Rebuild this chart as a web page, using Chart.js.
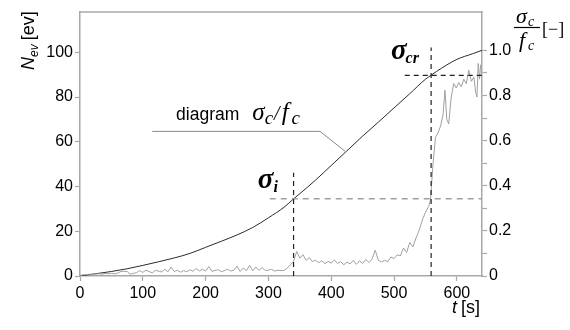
<!DOCTYPE html>
<html>
<head>
<meta charset="utf-8">
<script src="https://cdn.jsdelivr.net/npm/chart.js@4/dist/chart.umd.min.js"></script>
<style>
  html, body { margin: 0; padding: 0; background: #fff; }
  #wrap { width: 570px; height: 330px; }
</style>
</head>
<body>
<div id="wrap"><canvas id="aeChart" width="570" height="330"></canvas></div>
<script>
// acoustic emission events N_ev [ev] (grey, left axis)
const evTime = [0, 5, 10, 15, 20, 25, 30, 35, 40, 45, 50, 55, 60, 65, 70, 75, 80, 85, 90, 95,
  100, 105, 110, 115, 120, 125, 130, 135, 140, 145, 150, 155, 160, 165, 170, 175, 180, 185, 190, 195,
  200, 205, 210, 215, 220, 225, 230, 235, 240, 245, 250, 255, 260, 265, 270, 275, 280, 285, 290, 295,
  300, 305, 310, 315, 320, 325, 330, 335, 340, 345, 350, 355, 360, 365, 370, 375, 380, 385, 390, 395,
  400, 405, 410, 415, 420, 425, 430, 435, 440, 445, 450, 455, 460, 465, 470, 475, 480, 485, 490, 495,
  500, 505, 510, 515, 520, 525, 530, 535, 540, 545, 550, 555, 558, 562, 566, 570, 574, 578, 581, 584,
  587, 591, 595, 599, 603, 607, 611, 615, 619, 623, 627, 630, 632, 634, 636, 638];
const evCount = [0.3, 0.5, 0.6, 0.8, 0.7, 0.9, 1.0, 0.8, 1.1, 1.0, 1.2, 1.0, 1.3, 2.0, 2.1, 2.0, 0.8, 1.2, 1.5, 2.4,
  1.6, 2.6, 2.0, 1.4, 2.5, 2.2, 1.8, 3.0, 1.9, 4.0, 2.0, 2.6, 1.7, 2.4, 1.9, 2.8, 2.1, 3.4, 2.3, 3.0,
  2.2, 4.2, 2.1, 2.5, 2.8, 1.9, 2.4, 3.0, 2.2, 2.6, 4.4, 2.0, 3.6, 2.4, 4.8, 2.3, 4.0, 2.5, 3.8, 2.4,
  2.6, 3.0, 2.2, 2.6, 2.4, 2.5, 3.5, 5.0, 6.5, 11.0, 8.0, 9.5, 7.0, 8.2, 6.5, 7.0, 6.0, 6.8, 5.5, 6.5,
  5.8, 7.2, 5.6, 6.4, 5.0, 6.2, 5.4, 7.0, 5.2, 6.8, 5.6, 7.4, 6.0, 7.6, 11.5, 7.0, 6.3, 7.0, 6.4, 8.5,
  7.8, 9.5, 9.0, 12.5, 10.5, 15.0, 13.0, 17.0, 20.5, 25.0, 28.5, 31.0, 34.0, 50.0, 62.0, 64.0, 67.0, 72.0, 83.0, 70.0,
  68.0, 80.0, 86.0, 84.0, 86.5, 84.5, 88.0, 86.0, 92.0, 87.0, 89.0, 82.0, 80.0, 95.0, 88.0, 94.5];

// stress ratio sigma_c / f_c (black, right axis)
const stressTime = [0, 25, 50, 75, 100, 125, 150, 175, 200, 225, 250, 275, 300, 325, 340, 350,
  375, 400, 425, 450, 475, 500, 525, 550, 560, 575, 600, 625, 640];
const stressRatio = [0, 0.01, 0.02, 0.032, 0.047, 0.063, 0.08, 0.1, 0.127, 0.154, 0.182, 0.215, 0.258, 0.305, 0.342, 0.365,
  0.425, 0.49, 0.555, 0.62, 0.682, 0.745, 0.808, 0.872, 0.892, 0.92, 0.96, 0.985, 1.0];

// characteristic points
const sigmaI = { t: 340, ratio: 0.342 };
const sigmaCr = { t: 559, ratio: 0.889 };

const xTicks = [0, 100, 200, 300, 400, 500, 600];
const leftTicks = [0, 20, 40, 60, 80, 100];

const toPoints = (xs, ys) => xs.map((x, i) => ({ x: x, y: ys[i] }));

const DARK = '#2a2a2a';
const GREY = '#a0a0a0';
const AXIS = '#a8a8a8';

// text drawn over the plot: axis titles and labels
const labelsPlugin = {
  id: 'labels',
  afterDraw(chart) {
    const { ctx, chartArea: a, scales } = chart;
    const x = scales.x, r = scales.y1;
    ctx.save();

    // top frame line
    ctx.strokeStyle = AXIS;
    ctx.lineWidth = 1.5;
    ctx.beginPath();
    ctx.moveTo(a.left, a.top);
    ctx.lineTo(a.right + 0.75, a.top);
    ctx.stroke();

    ctx.fillStyle = '#000';
    ctx.textBaseline = 'alphabetic';
    ctx.textAlign = 'left';

    // "diagram σc/fc"
    let px = x.getPixelForValue(153), py = r.getPixelForValue(0.693);
    ctx.font = '17.5px "Liberation Sans", Arial, sans-serif';
    ctx.fillText('diagram', px, py);
    px += ctx.measureText('diagram').width + 13;
    ctx.font = 'italic 25px "Liberation Serif", serif';
    ctx.fillText('σ', px, py);
    px += ctx.measureText('σ').width;
    ctx.font = 'italic 19px "Liberation Serif", serif';
    ctx.fillText('c', px, py + 4);
    px += ctx.measureText('c').width + 1;
    ctx.font = 'italic 20px "Liberation Serif", serif';
    ctx.fillText('/', px, py);
    px += ctx.measureText('/').width + 2;
    ctx.font = 'italic 25px "Liberation Serif", serif';
    ctx.fillText('f', px, py);
    px += ctx.measureText('f').width + 3;
    ctx.font = 'italic 19px "Liberation Serif", serif';
    ctx.fillText('c', px, py + 4);

    // σi
    px = x.getPixelForValue(283); py = r.getPixelForValue(0.392);
    ctx.font = 'bold italic 29px "Liberation Serif", serif';
    ctx.fillText('σ', px, py);
    px += ctx.measureText('σ').width;
    ctx.font = 'bold italic 16px "Liberation Serif", serif';
    ctx.fillText('i', px, py + 4);

    // σcr
    px = x.getPixelForValue(495); py = r.getPixelForValue(0.962);
    ctx.font = 'bold italic 29px "Liberation Serif", serif';
    ctx.fillText('σ', px, py);
    px += ctx.measureText('σ').width - 1;
    ctx.font = 'bold italic 16px "Liberation Serif", serif';
    ctx.fillText('cr', px, py + 4);

    // x title "t [s]"
    px = a.right - 30; py = 313;
    ctx.font = 'italic 18px "Liberation Sans", Arial, sans-serif';
    ctx.fillText('t', px, py);
    px += ctx.measureText('t').width + 4;
    ctx.font = '18px "Liberation Sans", Arial, sans-serif';
    ctx.fillText('[s]', px, py);

    // right title: fraction σc / fc [−]
    const fx = a.right + 34;
    ctx.font = 'italic 22px "Liberation Serif", serif';
    ctx.fillText('σ', fx, 23);
    ctx.font = 'italic 14px "Liberation Serif", serif';
    ctx.fillText('c', fx + 12, 26);
    ctx.strokeStyle = '#000';
    ctx.lineWidth = 1.2;
    ctx.beginPath();
    ctx.moveTo(fx - 2, 27.5);
    ctx.lineTo(fx + 24, 27.5);
    ctx.stroke();
    ctx.font = 'italic 22px "Liberation Serif", serif';
    ctx.fillText('f', fx + 3, 47);
    ctx.font = 'italic 14px "Liberation Serif", serif';
    ctx.fillText('c', fx + 12, 50);
    ctx.font = '18px "Liberation Serif", serif';
    ctx.fillText('[−]', fx + 26, 35);

    // left title "Nev [ev]" rotated
    ctx.translate(34, a.top + 58);
    ctx.rotate(-Math.PI / 2);
    px = 0;
    ctx.font = 'italic 18px "Liberation Sans", Arial, sans-serif';
    ctx.fillText('N', px, 0);
    px += ctx.measureText('N').width;
    ctx.font = 'italic 12px "Liberation Sans", Arial, sans-serif';
    ctx.fillText('ev', px, 4);
    px += ctx.measureText('ev').width + 4;
    ctx.font = '18px "Liberation Sans", Arial, sans-serif';
    ctx.fillText('[ev]', px, 0);

    ctx.restore();
  }
};

const tickFont = { family: '"Liberation Sans", Arial, sans-serif', size: 16 };

new Chart(document.getElementById('aeChart'), {
  type: 'line',
  data: {
    datasets: [
      { // leader line of the "diagram" label
        data: [{ x: 115, y: 0.641 }, { x: 382, y: 0.641 }, { x: 422, y: 0.553 }],
        yAxisID: 'y1', borderColor: '#8a8a8a', borderWidth: 1, pointRadius: 0, tension: 0
      },
      { // σi vertical
        data: [{ x: sigmaI.t, y: 0 }, { x: sigmaI.t, y: 0.458 }],
        yAxisID: 'y1', borderColor: '#222', borderWidth: 1.2, borderDash: [5, 4], pointRadius: 0
      },
      { // σi horizontal
        data: [{ x: 302, y: sigmaI.ratio }, { x: 640, y: sigmaI.ratio }],
        yAxisID: 'y1', borderColor: '#a0a0a0', borderWidth: 1.5, borderDash: [6, 5], pointRadius: 0
      },
      { // σcr vertical
        data: [{ x: sigmaCr.t, y: 0 }, { x: sigmaCr.t, y: 1.013 }],
        yAxisID: 'y1', borderColor: '#222', borderWidth: 1.2, borderDash: [5, 4], pointRadius: 0
      },
      { // σcr horizontal
        data: [{ x: 517, y: sigmaCr.ratio }, { x: 642, y: sigmaCr.ratio }],
        yAxisID: 'y1', borderColor: '#222', borderWidth: 1.2, borderDash: [5, 4], pointRadius: 0
      },
      {
        label: 'N_ev',
        data: toPoints(evTime, evCount),
        yAxisID: 'y', borderColor: GREY, borderWidth: 1, pointRadius: 0, tension: 0
      },
      {
        label: 'σc/fc',
        data: toPoints(stressTime, stressRatio),
        yAxisID: 'y1', borderColor: DARK, borderWidth: 1, pointRadius: 0, cubicInterpolationMode: 'monotone'
      }
    ]
  },
  options: {
    responsive: false,
    maintainAspectRatio: false,
    animation: false,
    layout: { padding: { top: 12, left: 0, right: 0, bottom: 0 } },
    plugins: {
      legend: { display: false },
      tooltip: { enabled: false }
    },
    scales: {
      x: {
        type: 'linear', position: 'bottom', min: 0, max: 640,
        afterBuildTicks: s => { s.ticks = xTicks.map(v => ({ value: v })); },
        afterFit: s => { s.height = 54; },
        ticks: { color: '#000', font: tickFont, padding: 3, maxRotation: 0 },
        grid: { drawOnChartArea: false, tickLength: 5, color: AXIS, tickWidth: 1.2 },
        border: { color: AXIS, width: 1.5 }
      },
      y: {
        position: 'left', min: 0, max: 118,
        afterBuildTicks: s => { s.ticks = leftTicks.map(v => ({ value: v })); },
        afterFit: s => { s.width = 80; },
        ticks: { color: '#000', font: tickFont, padding: 2 },
        grid: { drawOnChartArea: false, tickLength: 5, color: AXIS, tickWidth: 1.2 },
        border: { color: AXIS, width: 1.5 }
      },
      y1: {
        position: 'right', min: 0, max: 1.17,
        afterBuildTicks: s => {
          s.ticks = [0, 1, 2, 3, 4, 5, 6, 7, 8, 9, 10].map(k => ({ value: k / 10 }));
        },
        afterFit: s => { s.width = 88; },
        ticks: {
          color: '#000', font: tickFont, padding: 2,
          callback: v => {
            const k = Math.round(v * 10);
            if (k % 2 !== 0) return '';
            return k === 0 ? '0' : (k / 10).toFixed(1);
          }
        },
        grid: { drawOnChartArea: false, tickLength: 5, color: AXIS, tickWidth: 1.2 },
        border: { color: AXIS, width: 1.5 }
      }
    }
  },
  plugins: [labelsPlugin]
});
</script>
</body>
</html>
